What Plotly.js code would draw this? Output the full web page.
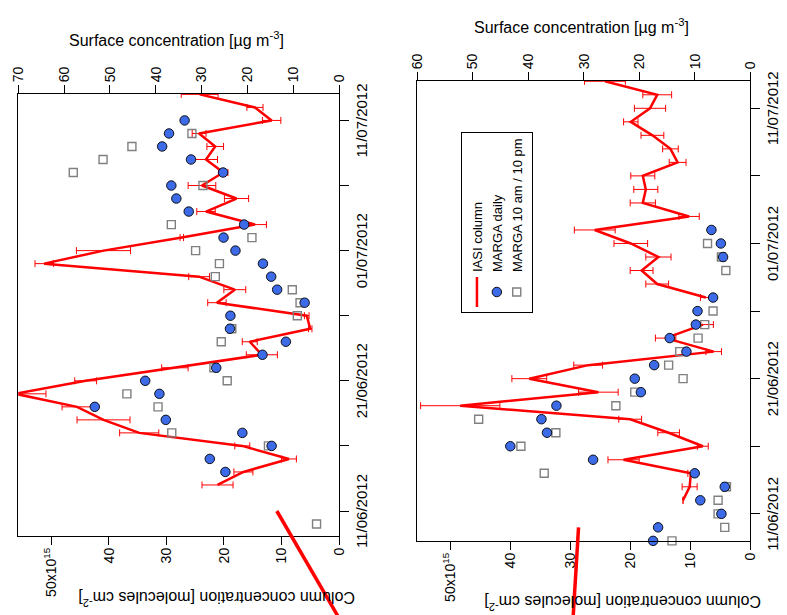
<!DOCTYPE html>
<html>
<head>
<meta charset="utf-8">
<script src="https://cdn.plot.ly/plotly-3.0.1.min.js"></script>
<style>
  html, body { margin: 0; padding: 0; background: #fff; }
  #wrap { position: relative; width: 787px; height: 615px; overflow: hidden; background: #fff; }
  #plot { position: absolute; left: 0; top: 0; width: 615px; height: 787px;
          transform-origin: 0 0; transform: translate(0px, 615px) rotate(-90deg); }
</style>
</head>
<body>
<div id="wrap"><div id="plot"></div></div>
<script>
// ---------------- DATA ----------------
const dates = ['2012-06-09','2012-06-10','2012-06-11','2012-06-12','2012-06-13','2012-06-14','2012-06-15',
  '2012-06-16','2012-06-17','2012-06-18','2012-06-19','2012-06-20','2012-06-21','2012-06-22','2012-06-23',
  '2012-06-24','2012-06-25','2012-06-26','2012-06-27','2012-06-28','2012-06-29','2012-06-30','2012-07-01',
  '2012-07-02','2012-07-03','2012-07-04','2012-07-05','2012-07-06','2012-07-07','2012-07-08','2012-07-09',
  '2012-07-10','2012-07-11','2012-07-12','2012-07-13'];

// Upper panel (first station)
const iasiColumnA = [null,null,null,null,21.1,16.6,8.7,16.8,34.7,40.9,45.5,56.2,44.0,28.5,13.4,15.5,5.0,5.6,
  21.2,18.1,24.3,51.2,40.9,27.3,14.6,23.1,17.8,23.8,20.1,23.1,21.5,24.3,11.7,14.6,24.2];
const iasiErrA = [null,null,null,null,2.7,1.65,1.3,1.3,3.4,4.6,2.6,5.3,1.9,2.3,2.7,1.3,0.3,0.4,
  1.6,1.9,1.8,1.6,4.7,0.3,2.0,1.6,2.1,2.4,0.8,2.0,1.45,1.2,1.6,1.4,3.2];
const margaDailyA = [null,null,null,null,null,24.8,28.2,14.7,21.1,37.8,53.3,39.2,42.3,26.8,16.7,11.6,23.8,23.7,
  7.5,13.5,14.8,16.6,22.6,25.2,20.7,32.8,35.5,36.6,25.3,32.3,38.6,37.1,33.7,null,null];
const margaAmPmA = [null,4.9,null,null,null,null,null,15.4,36.5,null,39.5,46.3,24.4,27.3,null,25.7,23.4,9.1,
  8.5,10.2,27.0,26.1,31.3,19.0,36.6,null,null,29.7,58.0,51.5,45.2,32.1,null,null,null];
// IASI segment running off the upper panel before its first date
const iasiOffDatesA = ['2012-05-27','2012-06-11'];
const iasiOffA = [-8.9, 10.8];

// Lower panel (second station)
const iasiColumnB = [null,null,null,11.2,10.1,9.9,21.1,7.9,13.6,20.0,48.3,25.3,36.8,27.0,6.1,14.1,7.9,null,
  7.4,15.5,18.1,15.3,19.9,25.9,10.2,17.9,17.4,17.9,12.1,13.3,16.3,19.9,16.7,15.5,24.2];
const iasiErrB = [null,null,null,0,1.25,0.5,2.6,0.9,1.8,1.9,6.6,3.3,2.9,2.4,1.3,1.7,1.75,null,
  0.9,1.9,1.9,2.1,2.8,3.4,1.7,2.1,2.0,2.0,1.4,1.3,1.9,1.2,2.6,2.4,3.4];
const margaDailyB = [17.5,16.6,5.2,9.0,4.6,10.0,28.3,43.2,36.6,37.6,34.9,19.7,20.8,17.3,11.5,14.5,9.8,9.5,
  6.7,null,null,4.9,5.3,7.0,null,null,null,null,null,null,null,null,null,null,null];
const margaAmPmB = [14.1,4.6,5.8,5.8,4.3,37.1,null,41.3,35.0,48.9,24.2,20.8,12.1,14.7,12.7,9.4,8.2,6.7,
  null,null,4.4,5.2,7.7,null,null,null,null,null,null,null,null,null,null,null,null];
const iasiOffDatesB = ['2012-05-27','2012-06-10'];
const iasiOffB = [30.5, 28.6];

const tickDates = ['2012-06-11','2012-06-21','2012-07-01','2012-07-11'];
const tickLabels = ['11/06/2012','21/06/2012','01/07/2012','11/07/2012'];
const minorTickDates = ['2012-06-16','2012-06-26','2012-07-06'];
const columnTicks = [0,10,20,30,40,50];
const columnLabels = ['0','10','20','30','40','50x10<sup>15</sup>'];
const names = ['IASI column','MARGA daily','MARGA 10 am / 10 pm'];

// ---------------- HELPERS ----------------
const W = 615, H = 787;
function dayNum(s){ const p = s.split('-'); return (Date.UTC(+p[0], +p[1]-1, +p[2]) - Date.UTC(2012,5,11)) / 86400000; }
const xs = dates.map(dayNum);
const tickX = tickDates.map(dayNum);
const minorX = minorTickDates.map(dayNum);
const FONT = 'Liberation Sans, Arial, Helvetica, sans-serif';

// panel geometry in unrotated pixels
const panA = { x0: 79, x1: 521, yTop: 18.3, yBot: 339, xr: [-1.92, 32.03], col: [0, 55.7], surf: [0, 70] };
const panB = { x0: 74, x1: 534, yTop: 417, yBot: 750.3, xr: [-2.01, 32.02], col: [0, 55.5], surf: [0, 60] };
function xdom(p){ return [p.x0 / W, p.x1 / W]; }
function ydom(p){ return [1 - p.yBot / H, 1 - p.yTop / H]; }
function extend(range, dom){ const s = (range[1]-range[0]) / (dom[1]-dom[0]); return [range[0] - dom[0]*s, range[1] + (1-dom[1])*s]; }

const RED = '#ff0000', BLUE = '#3d6ae6', GREY = '#808080';

function panelTraces(xa, yc, ys, xo, yo, iasi, err, daily, ampm, offDates, offVals, legend){
  return [
    { x: xs, y: ampm, xaxis: xa, yaxis: ys, type: 'scatter', mode: 'markers', name: names[2], legendrank: 3,
      showlegend: legend, cliponaxis: false,
      marker: { symbol: 'square-open', size: 8, color: GREY, line: { width: 1.4, color: GREY } } },
    { x: xs, y: iasi, xaxis: xa, yaxis: yc, type: 'scatter', mode: 'lines', name: names[0], legendrank: 1,
      showlegend: legend, connectgaps: false,
      line: { color: RED, width: 2.5 },
      error_y: { type: 'data', array: err, visible: true, color: RED, thickness: 1, width: 3.5 } },
    { x: xs, y: daily, xaxis: xa, yaxis: ys, type: 'scatter', mode: 'markers', name: names[1], legendrank: 2,
      showlegend: legend, cliponaxis: false,
      marker: { symbol: 'circle', size: 9.5, color: BLUE, line: { width: 0.9, color: '#000' } } },
    { x: offDates.map(dayNum), y: offVals, xaxis: xo, yaxis: yo, type: 'scatter', mode: 'lines',
      showlegend: false, hoverinfo: 'skip', line: { color: RED, width: 3.5 } }
  ];
}

const data = [].concat(
  panelTraces('x', 'y', 'y2', 'x3', 'y5', iasiColumnA, iasiErrA, margaDailyA, margaAmPmA, iasiOffDatesA, iasiOffA, false),
  panelTraces('x2', 'y3', 'y4', 'x4', 'y6', iasiColumnB, iasiErrB, margaDailyB, margaAmPmB, iasiOffDatesB, iasiOffB, true)
);

const tickFont = { family: FONT, size: 14, color: '#000' };
function xAxis(p, anchor){
  return { domain: xdom(p), range: p.xr, anchor: anchor, type: 'linear',
    tickmode: 'array', tickvals: tickX, ticktext: tickLabels, ticks: 'outside', ticklen: 9, tickwidth: 1,
    tickcolor: '#000', showline: true, linecolor: '#000', linewidth: 1, mirror: true,
    minor: { tickmode: 'array', tickvals: minorX, ticks: 'outside', ticklen: 9, tickwidth: 1, tickcolor: '#000', showgrid: false },
    showgrid: false, zeroline: false, tickfont: { family: FONT, size: 15, color: '#000' } };
}
function colAxis(p, anchor){
  return { domain: ydom(p), range: p.col, anchor: anchor, side: 'left',
    tickmode: 'array', tickvals: columnTicks, ticktext: columnLabels, ticks: 'outside', ticklen: 8,
    tickcolor: '#000', showline: true, linecolor: '#000', linewidth: 1, showgrid: false, zeroline: false,
    tickfont: tickFont };
}
function surfAxis(p, anchor, over){
  return { range: p.surf, anchor: anchor, overlaying: over, side: 'right', dtick: 10, tick0: 0,
    ticks: 'outside', ticklen: 8, tickcolor: '#000', showline: true, linecolor: '#000', linewidth: 1,
    showgrid: false, zeroline: false, tickfont: tickFont };
}
function hidden(dom, range, anchor){
  return { domain: dom, range: range, anchor: anchor, visible: false, showgrid: false, zeroline: false, fixedrange: true };
}

const titleFont = { family: FONT, size: 16, color: '#000' };
function title(text, x, y, angle){
  return { text: text, xref: 'paper', yref: 'paper', x: x / W, y: 1 - y / H, xanchor: 'center', yanchor: 'middle',
    textangle: angle, showarrow: false, font: titleFont };
}
const layout = {
  width: W, height: H, autosize: false,
  margin: { l: 0, r: 0, t: 0, b: 0, pad: 0 },
  paper_bgcolor: '#fff', plot_bgcolor: 'rgba(0,0,0,0)',
  font: { family: FONT, color: '#000' },
  showlegend: true,
  legend: { x: 302 / W, y: 1 - 461 / H, xanchor: 'left', yanchor: 'top', bgcolor: '#fff',
    bordercolor: '#000', borderwidth: 1, font: { family: FONT, size: 13, color: '#000' },
    itemwidth: 30, traceorder: 'normal' },
  xaxis: xAxis(panA, 'y'),
  yaxis: colAxis(panA, 'x'),
  yaxis2: surfAxis(panA, 'x', 'y'),
  xaxis2: xAxis(panB, 'y3'),
  yaxis3: colAxis(panB, 'x2'),
  yaxis4: surfAxis(panB, 'x2', 'y3'),
  xaxis3: hidden([0,1], extend(panA.xr, xdom(panA)), 'y5'),
  yaxis5: hidden([0,1], extend(panA.col, ydom(panA)), 'x3'),
  xaxis4: hidden([0,1], extend(panB.xr, xdom(panB)), 'y6'),
  yaxis6: hidden([0,1], extend(panB.col, ydom(panB)), 'x4'),
  annotations: [
    title('Column concentration [molecules cm<sup>-2</sup>]', 16, 217, -90),
    title('Column concentration [molecules cm<sup>-2</sup>]', 12, 623, -90),
    title('Surface concentration [µg m<sup>-3</sup>]', 576, 176, 90),
    title('Surface concentration [µg m<sup>-3</sup>]', 589, 581, 90)
  ]
};

Plotly.newPlot('plot', data, layout, { displayModeBar: false, staticPlot: true });
</script>
</body>
</html>
